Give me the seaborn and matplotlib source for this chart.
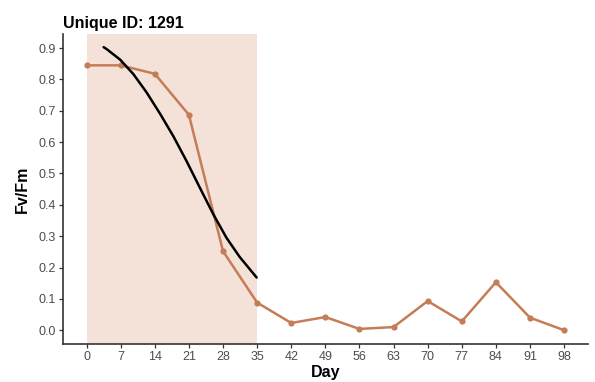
import matplotlib
matplotlib.use("Agg")
import matplotlib.pyplot as plt
import pandas as pd
import seaborn as sns

# observed Fv/Fm by day
days = [0, 7, 14, 21, 28, 35, 42, 49, 56, 63, 70, 77, 84, 91, 98]
fvfm = [0.845, 0.845, 0.818, 0.687, 0.252, 0.088, 0.023, 0.042, 0.004,
        0.010, 0.093, 0.028, 0.153, 0.040, 0.000]

# fitted decline curve
fit_days = [3.5, 4.1, 6.9, 9.6, 12.3, 15.1, 17.8, 20.5, 23.2, 26.0,
            28.7, 31.4, 34.9]
fit_vals = [0.903, 0.897, 0.863, 0.817, 0.759, 0.690, 0.619, 0.540,
            0.456, 0.370, 0.295, 0.234, 0.168]

shade_window = [0, 35]
x_ticks = list(range(0, 99, 7))
y_ticks = [0.0, 0.1, 0.2, 0.3, 0.4, 0.5, 0.6, 0.7, 0.8, 0.9]

obs = pd.DataFrame({"Day": days, "FvFm": fvfm})
fit = pd.DataFrame({"Day": fit_days, "FvFm": fit_vals})

sns.set_style("white")
plt.rcParams["font.family"] = ["Liberation Sans", "DejaVu Sans"]

fig = plt.figure(figsize=(5.95, 3.82), dpi=100)
ax = fig.add_axes([0.1054, 0.0987, 0.8828, 0.8123])

ax.axvspan(shade_window[0], shade_window[1], color="#f4e2d9", lw=0, zorder=0)

sns.lineplot(data=obs, x="Day", y="FvFm", ax=ax, color="#c47d57", lw=1.8,
             marker="o", markersize=4.5, markeredgewidth=0, zorder=3)
sns.lineplot(data=fit, x="Day", y="FvFm", ax=ax, color="black", lw=1.8,
             zorder=4)

ax.set_xlim(-4.9, 102.9)
ax.set_ylim(-0.045, 0.945)
ax.set_xticks(x_ticks)
ax.set_yticks(y_ticks)
ax.set_yticklabels([f"{v:.1f}" for v in y_ticks])

for side in ["top", "right"]:
    ax.spines[side].set_visible(False)
for side in ["left", "bottom"]:
    ax.spines[side].set_color("#333333")
    ax.spines[side].set_linewidth(1.2)

ax.tick_params(axis="both", which="both", length=3, width=0.9, color="#333333",
               labelcolor="#4d4d4d", labelsize=9, pad=2, direction="out",
               bottom=True, left=True)

ax.set_xlabel("Day", fontsize=11.5, fontweight="bold", labelpad=1, color="black")
ax.set_ylabel("Fv/Fm", fontsize=11.5, fontweight="bold", labelpad=6, color="black")
ax.set_title("Unique ID: 1291", fontsize=11.5, fontweight="bold", loc="left",
             x=0.0, pad=4, color="black")

fig.savefig("out.png", dpi=100)
